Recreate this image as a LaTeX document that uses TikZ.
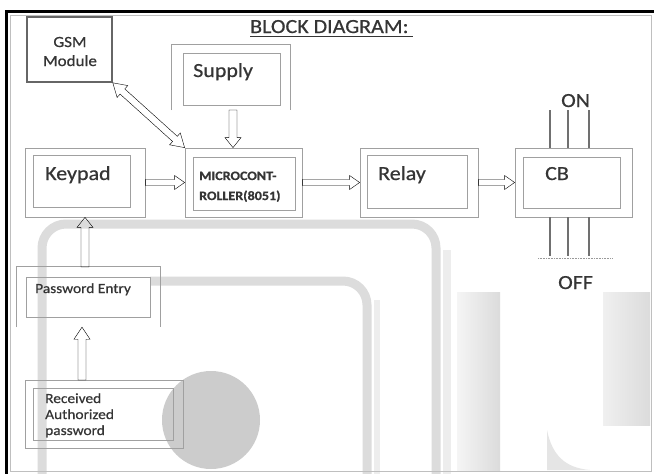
\documentclass[tikz,border=0pt]{standalone}
\usepackage{fontspec}
\setmainfont[FakeStretch=1.1,FakeBold=0.6]{Carlito}
\usetikzlibrary{calc,arrows.meta}
\definecolor{txt}{HTML}{353535}
\definecolor{bx}{HTML}{A0A0A0}
\definecolor{wm}{HTML}{DCDCDC}
\definecolor{pole}{HTML}{707070}
\tikzset{
  wmband/.style={draw=wm, line width=9pt, rounded corners=24pt},
  outerbox/.style={draw=bx, line width=0.8pt, inner sep=0pt},
  innerbox/.style={draw=bx, line width=0.8pt, inner sep=0pt},
  hidebox/.style={draw=none, inner sep=0pt},
  lbl/.style={anchor=base west, inner sep=0pt, text=txt},
  big/.style={font=\fontsize{20}{20}\selectfont},
  blk/.style n args={3}{draw=bx, line width=0.7pt, to path={
    ($(\tikztostart)!#1!90:(\tikztotarget)$)
    -- ($(\tikztotarget)!#3!(\tikztostart)!#1!90:(\tikztotarget)$)
    -- ($(\tikztotarget)!#3!(\tikztostart)!#2!90:(\tikztotarget)$)
    -- (\tikztotarget)
    -- ($(\tikztotarget)!#3!(\tikztostart)!#2!-90:(\tikztotarget)$)
    -- ($(\tikztotarget)!#3!(\tikztostart)!#1!-90:(\tikztotarget)$)
    -- ($(\tikztostart)!#1!-90:(\tikztotarget)$) -- cycle}},
  blkdbl/.style n args={3}{draw=black!55, line width=0.8pt, to path={
    ($(\tikztostart)!#3!(\tikztotarget)!#1!90:(\tikztotarget)$)
    -- ($(\tikztotarget)!#3!(\tikztostart)!#1!90:(\tikztotarget)$)
    -- ($(\tikztotarget)!#3!(\tikztostart)!#2!90:(\tikztotarget)$)
    -- (\tikztotarget)
    -- ($(\tikztotarget)!#3!(\tikztostart)!#2!-90:(\tikztotarget)$)
    -- ($(\tikztotarget)!#3!(\tikztostart)!#1!-90:(\tikztotarget)$)
    -- ($(\tikztostart)!#3!(\tikztotarget)!#1!-90:(\tikztotarget)$)
    -- ($(\tikztostart)!#3!(\tikztotarget)!#2!-90:(\tikztotarget)$)
    -- (\tikztostart)
    -- ($(\tikztostart)!#3!(\tikztotarget)!#2!90:(\tikztotarget)$) -- cycle}},
  polestyle/.style={draw=pole, line width=1.3pt}
}
\begin{document}
\begin{tikzpicture}[x=1pt,y=-1pt]
\useasboundingbox (0,0) rectangle (654,474);
\fill[white] (0,0) rectangle (654,474);

% --- faint background watermark shapes ---
\fill[left color=black!4, right color=black!14] (457,292) rectangle (500,470);
\fill[left color=black!6, right color=black!14] (603,292) rectangle (650,425);
\fill[black!10] (547,430) .. controls (552,455) and (565,468) .. (590,470) -- (547,470) -- cycle;
\fill[black!20] (211,420) circle (49);
\draw[wmband] (42,474) -- (42,224) -- (436,224) -- (436,474);
\draw[draw=black!7, line width=8pt] (447,250) -- (447,474);
\draw[wmband] (150,281) -- (367,281) -- (367,474);
\draw[draw=black!7, line width=6pt] (377,300) -- (377,474);

% --- frame ---
\draw[black!25, line width=0.8pt] (10,15) rectangle (651,471);
\draw[black, line width=3pt] (6,474) -- (6,11) -- (654,11);

% --- title ---
\node[lbl, font=\fontsize{20}{20}\selectfont] (title) at (250,33) {BLOCK DIAGRAM:};
\draw[txt, line width=0.8pt] (title.base west) ++(0,3) -- ++(163,0);

% --- GSM ---
\node[draw=black!60, line width=1.6pt, minimum width=85pt, minimum height=65pt, inner sep=0pt] (gsm) at (69.5,49.5) {};
\node[lbl, anchor=base, font=\fontsize{15.5}{15.5}\selectfont] (gsmt1) at (70,47) {GSM};
\node[lbl, anchor=base, font=\fontsize{15.5}{15.5}\selectfont] (gsmt2) at (70,66) {Module};

% --- Supply ---
\node[hidebox, minimum width=118pt, minimum height=65pt] (sp) at (231,77.5) {};
\draw[bx, line width=0.8pt] (sp.south west) -- (sp.north west) -- (sp.north east) -- (sp.south east);
\node[innerbox, minimum width=97pt, minimum height=52pt] (spi) at (231.5,79) {};
\node[lbl, big] (spt) at (193,77) {Supply};

% --- Microcontroller ---
\node[outerbox, minimum width=117pt, minimum height=69pt] (mc) at (243.5,182.5) {};
\node[innerbox, minimum width=102pt, minimum height=53pt] (mci) at (244,183.5) {};
\node[lbl, font=\bfseries\fontsize{12.8}{12.8}\selectfont] (mct1) at (199,180) {MICROCONT-};
\node[lbl, font=\bfseries\fontsize{12.8}{12.8}\selectfont] (mct2) at (199,200) {ROLLER(8051)};

% --- Keypad ---
\node[outerbox, minimum width=120pt, minimum height=69pt] (kp) at (85,182.5) {};
\node[innerbox, minimum width=97pt, minimum height=52pt] (kpi) at (81.5,181) {};
\node[lbl, big] (kpt) at (45,180) {Keypad};

% --- Relay ---
\node[outerbox, minimum width=118pt, minimum height=69pt] (rl) at (419,182.5) {};
\node[innerbox, minimum width=100pt, minimum height=53pt] (rli) at (417,181.5) {};
\node[lbl, big] (rlt) at (378,180) {Relay};

% --- CB ---
\node[outerbox, minimum width=117pt, minimum height=69pt] (cb) at (573.5,182.5) {};
\node[innerbox, minimum width=97pt, minimum height=51pt] (cbi) at (571.5,182.5) {};
\node[lbl, big] (cbt) at (545,180) {CB};

% --- Password Entry ---
\node[hidebox, minimum width=143pt, minimum height=60pt] (pw) at (88.5,297) {};
\draw[bx, line width=0.8pt] (pw.south west) -- (pw.north west) -- (pw.north east) -- (pw.south east);
\node[innerbox, minimum width=124pt, minimum height=40pt] (pwi) at (88,297) {};
\node[lbl, font=\fontsize{14}{14}\selectfont] (pwt) at (35,293) {Password Entry};

% --- Received Authorized password ---
\node[outerbox, minimum width=158pt, minimum height=68pt] (rx) at (104,414) {};
\node[innerbox, minimum width=140pt, minimum height=52pt] (rxi) at (103,414) {};
\node[lbl, font=\fontsize{14}{14}\selectfont] (rxt1) at (45,403) {Received};
\node[lbl, font=\fontsize{14}{14}\selectfont] (rxt2) at (45,419) {Authorized};
\node[lbl, font=\fontsize{14}{14}\selectfont] (rxt3) at (45,435) {password};

% --- ON / OFF ---
\node[lbl, big] (on) at (561,107) {ON};
\node[lbl, big] (off) at (558,289) {OFF};
\foreach \i/\xx in {1/550,2/568,3/589}{
  \coordinate (ontop\i) at (\xx,110);
  \coordinate (offbot\i) at (\xx,256);
  \draw[polestyle] (ontop\i) -- (ontop\i |- cb.north);
  \draw[polestyle] (cb.south -| offbot\i) -- (offbot\i);
}
\coordinate (offl) at (538,258);
\coordinate (offr) at (612,258);
\draw[black!40, densely dotted, line width=0.6pt] (offl) -- (offr);

% --- connectors ---
\coordinate (spa) at (233,110);
\draw (spa) to[blk={4pt}{8pt}{10pt}] (spa |- mc.north);
\draw (kp.east) to[blk={3pt}{7pt}{10pt}] (mc.west);
\draw (mc.east) to[blk={3pt}{7pt}{10pt}] (rl.west);
\draw (rl.east) to[blk={3pt}{7pt}{10pt}] (cb.west);
\coordinate (pwa) at (85,267);
\draw (pwa) to[blk={4pt}{8pt}{10pt}] (pwa |- kp.south);
\coordinate (rxa) at (82,380);
\draw (rxa) to[blk={4pt}{8pt}{12pt}] (rxa |- pw.south);
\draw (gsm.south east) to[blkdbl={3.5pt}{8pt}{13pt}] (mc.north west);
\end{tikzpicture}
\end{document}
